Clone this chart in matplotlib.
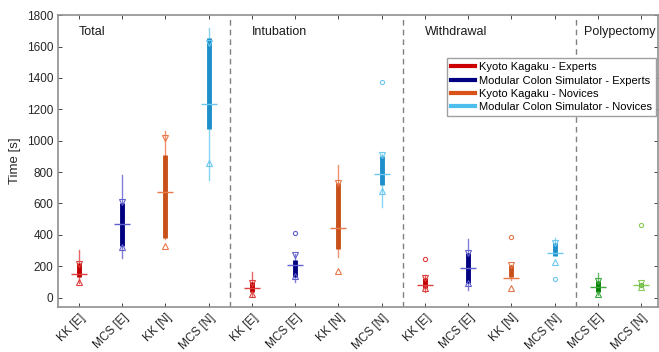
import matplotlib.pyplot as plt
from matplotlib.lines import Line2D

plt.rcParams['font.family'] = ['Liberation Sans', 'DejaVu Sans']

# box statistics per group (seconds)
labels = ['KK [E]', 'MCS [E]', 'KK [N]', 'MCS [N]'] * 3 + ['MCS [E]', 'MCS [N]']
whisk_lo = [95, 250, 375, 750,   10, 102, 257, 580,   38, 49, 113, 270,   17, 70]
whisk_hi = [305, 780, 1060, 1720, 160, 276, 845, 915, 145, 372, 208, 382, 155, 92]
q1 =       [130, 330, 378, 1072,  38, 134, 310, 720,  60, 92, 130, 266,   38, 70]
q3 =       [222, 605, 910, 1655,  96, 240, 730, 899,  124, 287, 208, 347, 108, 92]
medians =  [153, 470, 670, 1232,  60, 208, 442, 788,  81, 187, 124, 287,  66, 81]
notch_lo = [96, 325, 330, 855,    24, 140, 166, 682,  60, 92, 60, 229,    24, 70]
notch_hi = [215, 612, 1015, 1620, 92, 268, 730, 909,  124, 287, 208, 347, 108, 92]
outliers = [[], [], [], [],  [], [410], [], [1373],  [245], [], [385], [117],  [], [463]]

sections = ['Total', 'Intubation', 'Withdrawal', 'Polypectomy']
section_x = [1.0, 5.0, 9.0, 12.68]
separators = [4.5, 8.5, 12.5]

dark = ['#C00000', '#000080', '#C8501A', '#1E8FC8']
light = ['#E04040', '#6060D0', '#E8784A', '#6CC8F0']
box_col = dark * 3 + ['#008000', '#228B22']
line_col = light * 3 + ['#40A840', '#88CC55']
legend_names = ['Kyoto Kagaku - Experts', 'Modular Colon Simulator - Experts',
                'Kyoto Kagaku - Novices', 'Modular Colon Simulator - Novices']
legend_cols = ['#CC0000', '#000080', '#D95319', '#4DBEEE']

fig = plt.figure(figsize=(6.59, 3.52), dpi=100)
ax = fig.add_axes([0.088, 0.128, 0.911, 0.829])

for i in range(len(labels)):
    x = i + 1
    ax.plot([x, x], [whisk_lo[i], whisk_hi[i]], color=line_col[i], lw=1, alpha=0.8, zorder=2)
    ax.plot([x, x], [q1[i], q3[i]], color=box_col[i], lw=3.5, solid_capstyle='butt', zorder=3)
    ax.plot(x, medians[i], marker='_', ms=11, mew=1, color=line_col[i], zorder=4)
    ax.plot(x, notch_hi[i], marker='v', ms=5, mfc='none', mew=0.8, color=line_col[i], zorder=4)
    ax.plot(x, notch_lo[i], marker='^', ms=5, mfc='none', mew=0.8, color=line_col[i], zorder=4)
    for o in outliers[i]:
        ax.plot(x, o, marker='o', ms=3, mfc='none', mew=0.8, color=line_col[i], zorder=4)

for s in separators:
    ax.axvline(s, color='#808080', ls=(0, (4, 3)), lw=1)

for name, sx in zip(sections, section_x):
    ax.text(sx, 1690, name, fontsize=9, color='#1a1a1a', va='center', ha='left')

ax.set_xlim(0.52, 14.4)
ax.set_ylim(-60, 1800)
ax.set_yticks(range(0, 1801, 200))
ax.set_xticks(range(1, len(labels) + 1))
ax.set_xticklabels(labels, rotation=45, ha='right', rotation_mode='anchor')
ax.tick_params(direction='in', top=True, right=True, labelsize=8.5,
               colors='#262626', length=3, width=0.6)
for sp in ax.spines.values():
    sp.set_color('#909090')
    sp.set_linewidth(1.2)
ax.set_ylabel('Time [s]', fontsize=9.5, color='#262626')

handles = [Line2D([0], [0], color=c, lw=3) for c in legend_cols]
leg = ax.legend(handles, legend_names, loc='upper left', bbox_to_anchor=(0.648, 0.852),
                fontsize=8, handlelength=2.2, handletextpad=0.3, labelspacing=0.3,
                borderpad=0.35, fancybox=False, framealpha=1, borderaxespad=0)
leg.get_frame().set_edgecolor('#a0a0a0')

fig.savefig('out.png', dpi=100)
